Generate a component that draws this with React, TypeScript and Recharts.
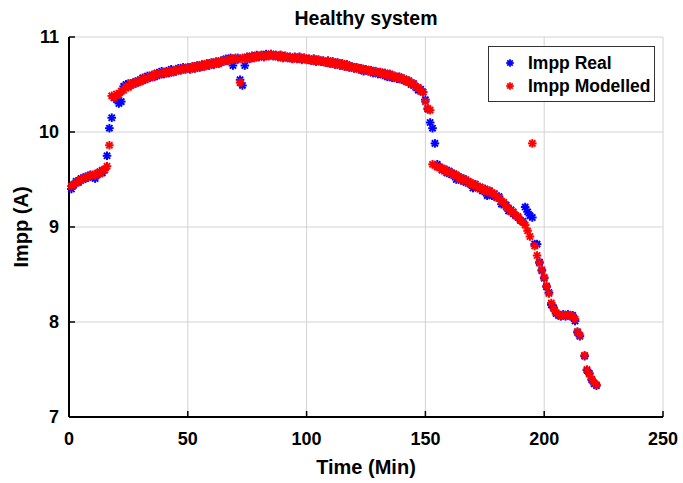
import React from "react";
import { ScatterChart, Scatter, XAxis, YAxis, CartesianGrid, Legend } from "recharts";

const TIME = [
  1, 2, 3, 4, 5, 6, 7, 8, 9, 10,
  11, 12, 13, 14, 15, 16, 17, 18, 19, 20,
  21, 22, 23, 24, 25, 26, 27, 28, 29, 30,
  31, 32, 33, 34, 35, 36, 37, 38, 39, 40,
  41, 42, 43, 44, 45, 46, 47, 48, 49, 50,
  51, 52, 53, 54, 55, 56, 57, 58, 59, 60,
  61, 62, 63, 64, 65, 66, 67, 68, 69, 70,
  71, 72, 73, 74, 75, 76, 77, 78, 79, 80,
  81, 82, 83, 84, 85, 86, 87, 88, 89, 90,
  91, 92, 93, 94, 95, 96, 97, 98, 99, 100,
  101, 102, 103, 104, 105, 106, 107, 108, 109, 110,
  111, 112, 113, 114, 115, 116, 117, 118, 119, 120,
  121, 122, 123, 124, 125, 126, 127, 128, 129, 130,
  131, 132, 133, 134, 135, 136, 137, 138, 139, 140,
  141, 142, 143, 144, 145, 146, 147, 148, 149, 150,
  151, 152, 153, 154, 155, 156, 157, 158, 159, 160,
  161, 162, 163, 164, 165, 166, 167, 168, 169, 170,
  171, 172, 173, 174, 175, 176, 177, 178, 179, 180,
  181, 182, 183, 184, 185, 186, 187, 188, 189, 190,
  191, 192, 193, 194, 195, 196, 197, 198, 199, 200,
  201, 202, 203, 204, 205, 206, 207, 208, 209, 210,
  211, 212, 213, 214, 215, 216, 217, 218, 219, 220,
  221, 222,
];

const IMPP_REAL: (number | null)[] = [
  9.40, 9.44, 9.48, 9.47, 9.51, 9.50, 9.53, 9.52, 9.55, 9.53,
  9.51, 9.55, 9.58, 9.57, 9.60, 9.75, 10.04, 10.15, 10.36, 10.34,
  10.30, 10.32, 10.48, 10.50, 10.51, 10.49, 10.52, 10.51, 10.54, 10.53,
  10.57, 10.55, 10.59, 10.57, 10.60, 10.58, 10.62, 10.60, 10.64, 10.61,
  10.64, 10.62, 10.66, 10.63, 10.64, 10.67, 10.65, 10.68, 10.66, 10.68,
  10.66, 10.69, 10.67, 10.70, 10.68, 10.71, 10.69, 10.72, 10.70, 10.73,
  10.71, 10.74, 10.72, 10.75, 10.74, 10.77, 10.75, 10.78, 10.70, 10.76,
  10.78, 10.55, 10.49, 10.70, 10.79, 10.77, 10.80, 10.78, 10.81, 10.79,
  10.81, 10.79, 10.82, 10.80, 10.82, 10.80, 10.81, 10.79, 10.81, 10.78,
  10.80, 10.78, 10.79, 10.77, 10.79, 10.77, 10.79, 10.76, 10.78, 10.76,
  10.77, 10.75, 10.77, 10.74, 10.76, 10.74, 10.75, 10.73, 10.75, 10.72,
  10.74, 10.71, 10.73, 10.70, 10.72, 10.69, 10.71, 10.68, 10.69, 10.67,
  10.68, 10.66, 10.67, 10.64, 10.66, 10.64, 10.65, 10.62, 10.64, 10.61,
  10.63, 10.60, 10.62, 10.58, 10.61, 10.57, 10.59, 10.56, 10.58, 10.55,
  10.56, 10.53, 10.54, 10.50, 10.51, 10.47, 10.44, 10.45, 10.42, 10.34,
  10.24, 10.10, 10.04, 9.88, 9.66, 9.63, 9.60, 9.61, 9.57, 9.59,
  9.55, 9.56, 9.50, 9.53, 9.49, 9.51, 9.47, 9.48, 9.45, 9.41,
  9.45, 9.41, 9.42, 9.38, 9.40, 9.33, 9.38, 9.33, 9.35, 9.31,
  9.32, 9.24, 9.24, 9.23, 9.17, 9.18, 9.14, 9.12, 9.10, 9.07,
  9.06, 9.21, 9.16, 9.12, 9.10, 8.82, 8.82, 8.63, 8.54, 8.46,
  8.37, 8.31, 8.18, 8.15, 8.09, 8.07, 8.06, 8.08, 8.06, 8.08,
  8.06, 8.07, 8.01, 7.89, 7.85, null, 7.64, 7.49, 7.46, 7.39,
  7.35, 7.33,
];

const IMPP_MODELLED: (number | null)[] = [
  9.43, 9.45, 9.47, 9.48, 9.50, 9.51, 9.52, 9.53, 9.54, 9.55,
  9.54, 9.57, 9.56, 9.60, 9.60, 9.64, 9.86, 10.38, 10.36, 10.40,
  10.39, 10.43, 10.44, 10.48, 10.47, 10.51, 10.50, 10.53, 10.52, 10.55,
  10.54, 10.57, 10.56, 10.59, 10.58, 10.61, 10.60, 10.62, 10.61, 10.63,
  10.62, 10.64, 10.63, 10.65, 10.64, 10.66, 10.65, 10.67, 10.66, 10.68,
  10.66, 10.69, 10.67, 10.70, 10.68, 10.71, 10.69, 10.72, 10.70, 10.73,
  10.71, 10.74, 10.72, 10.75, 10.74, 10.76, 10.75, 10.77, 10.76, 10.78,
  10.76, 10.52, 10.78, 10.77, 10.79, 10.77, 10.80, 10.78, 10.80, 10.79,
  10.81, 10.79, 10.81, 10.80, 10.82, 10.80, 10.81, 10.79, 10.81, 10.78,
  10.80, 10.78, 10.79, 10.77, 10.79, 10.77, 10.79, 10.76, 10.78, 10.76,
  10.77, 10.75, 10.77, 10.74, 10.76, 10.74, 10.75, 10.73, 10.75, 10.72,
  10.74, 10.71, 10.73, 10.70, 10.72, 10.69, 10.71, 10.68, 10.69, 10.67,
  10.68, 10.66, 10.67, 10.65, 10.66, 10.64, 10.65, 10.63, 10.64, 10.62,
  10.63, 10.61, 10.62, 10.59, 10.61, 10.58, 10.59, 10.57, 10.58, 10.55,
  10.56, 10.53, 10.54, 10.51, 10.51, 10.47, 10.47, 10.43, 10.42, 10.32,
  10.25, 10.23, 9.66, 9.65, 9.63, 9.63, 9.60, 9.61, 9.58, 9.58,
  9.57, 9.54, 9.55, 9.51, 9.52, 9.49, 9.50, 9.46, 9.47, 9.44,
  9.45, 9.41, 9.42, 9.39, 9.40, 9.37, 9.38, 9.35, 9.35, 9.31,
  9.31, 9.27, 9.26, 9.21, 9.20, 9.16, 9.16, 9.12, 9.11, 9.07,
  9.05, 9.02, 8.96, 8.90, 9.88, 8.80, 8.70, 8.62, 8.55, 8.47,
  8.38, 8.30, 8.20, 8.14, 8.10, 8.08, 8.07, 8.07, 8.07, 8.07,
  8.07, 8.06, 8.03, 7.90, 7.86, null, 7.65, 7.50, 7.45, 7.40,
  7.36, 7.34,
];

const X_TICKS = [0, 50, 100, 150, 200, 250];
const Y_TICKS = [7, 8, 9, 10, 11];

const W = 683;
const H = 483;
const PLOT_LEFT = 69;
const PLOT_RIGHT = 663;
const PLOT_TOP = 37;
const PLOT_BOTTOM = 417;
const TICK_LEN = 6;
const FONT = "'Liberation Sans', Arial, Helvetica, sans-serif";

const realData = TIME.map((t, i) => ({ t, v: IMPP_REAL[i] })).filter((d) => d.v !== null);
const modelData = TIME.map((t, i) => ({ t, v: IMPP_MODELLED[i] })).filter((d) => d.v !== null);

function Asterisk({ cx, cy, color, r = 4.3, sw = 2 }: { cx: number; cy: number; color: string; r?: number; sw?: number }) {
  const d = r * 0.72;
  return (
    <g stroke={color} strokeWidth={sw} strokeLinecap="butt">
      <line x1={cx - r} y1={cy} x2={cx + r} y2={cy} />
      <line x1={cx} y1={cy - r} x2={cx} y2={cy + r} />
      <line x1={cx - d} y1={cy - d} x2={cx + d} y2={cy + d} />
      <line x1={cx - d} y1={cy + d} x2={cx + d} y2={cy - d} />
    </g>
  );
}

const blueShape = (p: any) => <Asterisk cx={p.cx} cy={p.cy} color="#0000ff" />;
const redShape = (p: any) => <Asterisk cx={p.cx} cy={p.cy} color="#ff0000" />;

const BottomTick = (p: any) => (
  <g>
    <line x1={p.x} y1={PLOT_BOTTOM} x2={p.x} y2={PLOT_BOTTOM - TICK_LEN} stroke="#000" strokeWidth={1.5} />
    <text x={p.x} y={PLOT_BOTTOM + 28} textAnchor="middle" fontFamily={FONT} fontWeight="bold" fontSize={18} fill="#000">
      {p.payload.value}
    </text>
  </g>
);
const TopTick = (p: any) => (
  <line x1={p.x} y1={PLOT_TOP} x2={p.x} y2={PLOT_TOP + TICK_LEN} stroke="#000" strokeWidth={1.5} />
);
const LeftTick = (p: any) => (
  <g>
    <line x1={PLOT_LEFT} y1={p.y} x2={PLOT_LEFT + TICK_LEN} y2={p.y} stroke="#000" strokeWidth={1.5} />
    <text x={PLOT_LEFT - 10} y={p.y + 6} textAnchor="end" fontFamily={FONT} fontWeight="bold" fontSize={18} fill="#000">
      {p.payload.value}
    </text>
  </g>
);
const RightTick = (p: any) => (
  <line x1={PLOT_RIGHT} y1={p.y} x2={PLOT_RIGHT - TICK_LEN} y2={p.y} stroke="#000" strokeWidth={1.5} />
);

const LegendBox = () => (
  <div
    style={{
      width: 167,
      height: 56,
      boxSizing: "border-box",
      border: "1.5px solid #333",
      background: "#fff",
      position: "relative",
      fontFamily: FONT,
      fontWeight: "bold",
      fontSize: 17.5,
      color: "#000",
    }}
  >
    {[
      { label: "Impp Real", color: "#0000ff", top: 6 },
      { label: "Impp Modelled", color: "#ff0000", top: 29 },
    ].map((e) => (
      <div key={e.label} style={{ position: "absolute", left: 0, top: e.top, height: 20, display: "flex", alignItems: "center" }}>
        <svg width={39} height={20} style={{ display: "block" }}>
          <Asterisk cx={21} cy={10} color={e.color} r={3.8} sw={1.8} />
        </svg>
        <span style={{ lineHeight: "20px" }}>{e.label}</span>
      </div>
    ))}
  </div>
);

export default function App() {
  return (
    <div style={{ position: "relative", width: W, height: H, background: "#fff" }}>
      <style>{`body{margin:0;background:#fff;}`}</style>
      <ScatterChart
        width={W}
        height={H}
        margin={{ top: PLOT_TOP, right: W - PLOT_RIGHT, bottom: 0, left: 0 }}
      >
        <CartesianGrid stroke="#d2d2d2" strokeWidth={1} />
        <XAxis
          dataKey="t"
          type="number"
          domain={[0, 250]}
          ticks={X_TICKS}
          tickLine={false}
          tick={<BottomTick />}
          axisLine={{ stroke: "#000", strokeWidth: 2 }}
          height={H - PLOT_BOTTOM}
          interval={0}
        />
        <XAxis
          xAxisId="top"
          orientation="top"
          type="number"
          domain={[0, 250]}
          ticks={X_TICKS}
          tickLine={false}
          tick={<TopTick />}
          axisLine={{ stroke: "#000", strokeWidth: 2 }}
          height={0}
          interval={0}
        />
        <YAxis
          dataKey="v"
          type="number"
          domain={[7, 11]}
          ticks={Y_TICKS}
          tickLine={false}
          tick={<LeftTick />}
          axisLine={{ stroke: "#000", strokeWidth: 2 }}
          width={PLOT_LEFT}
          interval={0}
        />
        <YAxis
          yAxisId="right"
          orientation="right"
          type="number"
          domain={[7, 11]}
          ticks={Y_TICKS}
          tickLine={false}
          tick={<RightTick />}
          axisLine={{ stroke: "#000", strokeWidth: 2 }}
          width={0}
          interval={0}
        />
        <Legend
          layout="horizontal"
          verticalAlign="middle"
          align="center"
          content={<LegendBox />}
          wrapperStyle={{ position: "absolute", left: 488, top: 46, width: 167, height: 56, bottom: "auto", right: "auto" }}
        />
        <Scatter name="Impp Real" data={realData} shape={blueShape} isAnimationActive={false} />
        <Scatter name="Impp Modelled" data={modelData} shape={redShape} isAnimationActive={false} />
      </ScatterChart>
      <div
        style={{
          position: "absolute",
          left: PLOT_LEFT,
          width: PLOT_RIGHT - PLOT_LEFT,
          top: 7,
          textAlign: "center",
          fontFamily: FONT,
          fontWeight: "bold",
          fontSize: 19.5,
          lineHeight: "22px",
          color: "#000",
        }}
      >
        Healthy system
      </div>
      <div
        style={{
          position: "absolute",
          left: PLOT_LEFT,
          width: PLOT_RIGHT - PLOT_LEFT,
          top: 455,
          textAlign: "center",
          fontFamily: FONT,
          fontWeight: "bold",
          fontSize: 20,
          lineHeight: "24px",
          color: "#000",
        }}
      >
        Time (Min)
      </div>
      <div
        style={{
          position: "absolute",
          left: 21,
          top: (PLOT_TOP + PLOT_BOTTOM) / 2,
          transform: "translate(-50%, -50%) rotate(-90deg)",
          whiteSpace: "nowrap",
          fontFamily: FONT,
          fontWeight: "bold",
          fontSize: 20,
          lineHeight: "24px",
          color: "#000",
        }}
      >
        Impp (A)
      </div>
    </div>
  );
}
